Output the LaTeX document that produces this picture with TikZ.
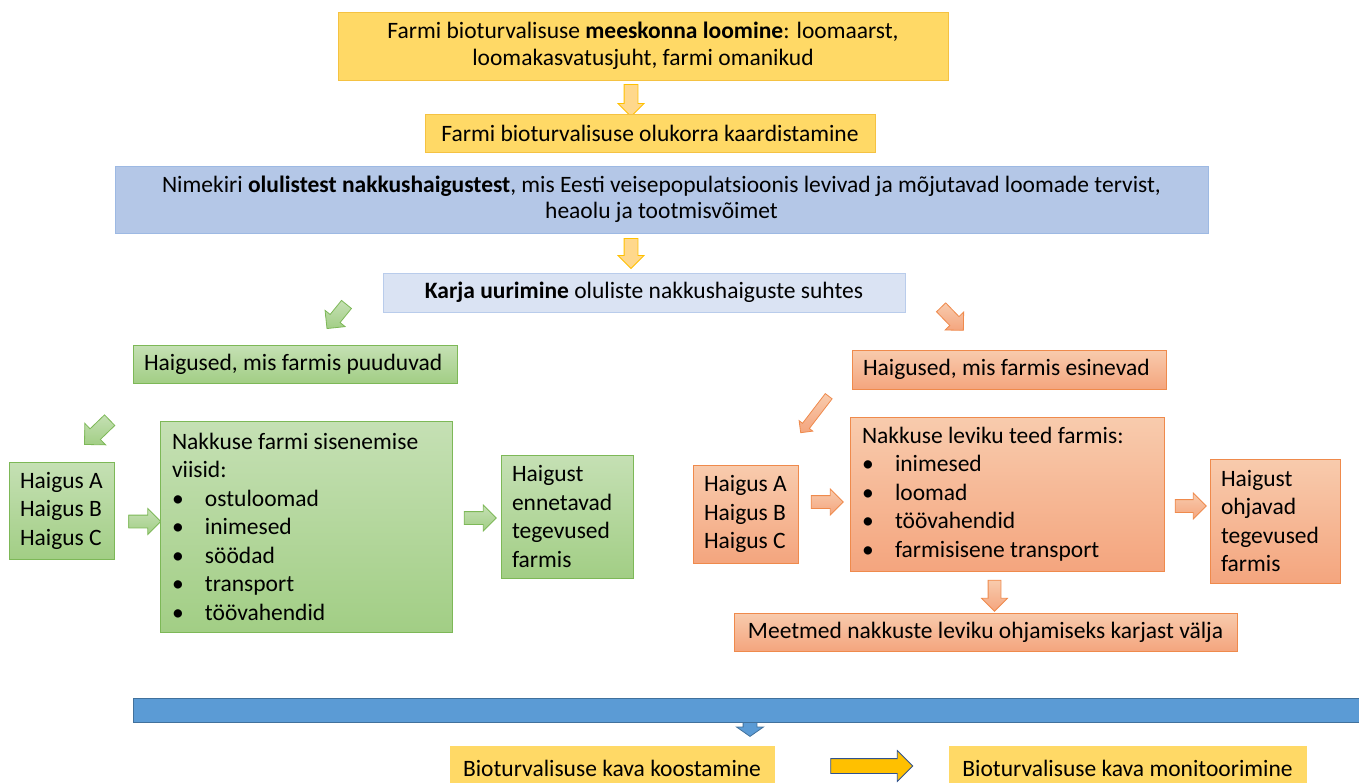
\documentclass[tikz,border=0pt]{standalone}
\usepackage{fontspec}
\setmainfont{Carlito}
\usetikzlibrary{shapes.arrows}
\definecolor{yfill}{HTML}{FFD966}
\definecolor{yline}{HTML}{F5C242}
\definecolor{yarr}{HTML}{FFD88C}
\definecolor{bfill}{HTML}{B4C7E7}
\definecolor{bline}{HTML}{9DB9E3}
\definecolor{lbfill}{HTML}{DAE3F3}
\definecolor{lbline}{HTML}{B9CCEB}
\definecolor{gtop}{HTML}{C5E0B4}
\definecolor{gbot}{HTML}{A2CE85}
\definecolor{gline}{HTML}{7DB857}
\definecolor{otop}{HTML}{F8CBAD}
\definecolor{obot}{HTML}{F4A57E}
\definecolor{oline}{HTML}{EF8A4C}
\definecolor{barfill}{HTML}{5B9BD5}
\definecolor{barline}{HTML}{41719C}
\definecolor{kfill}{HTML}{FFC000}
\definecolor{kline}{HTML}{2F528F}
\newcommand{\itm}{\makebox[33pt][l]{•}}
\tikzset{
  box/.style={draw, line width=1pt, inner xsep=11pt, inner ysep=0pt,
    font=\fontsize{23.5}{28.5}\selectfont},
  ybox/.style={box, fill=yfill, draw=yline, align=center},
  bbox/.style={box, fill=bfill, draw=bline, align=center},
  lbbox/.style={box, fill=lbfill, draw=lbline, align=center},
  gbox/.style={box, top color=gtop, bottom color=gbot, draw=gline, align=flush left},
  obox/.style={box, top color=otop, bottom color=obot, draw=oline, align=flush left},
  blk/.style={single arrow, line width=0.8pt, inner xsep=0pt},
  yarrow/.style={blk, fill=yarr, draw=kfill},
  garrow/.style={blk, top color=gtop, bottom color=gbot, draw=gline},
  oarrow/.style={blk, top color=otop, bottom color=obot, draw=oline}
}
\begin{document}
\begin{tikzpicture}[x=1pt,y=-1pt]
  \useasboundingbox (0,0) rectangle (1359,782);
  % planning steps
  \node [ybox, minimum width=610pt, minimum height=68pt, font=\fontsize{23.5}{27}\selectfont] (team) at (643,46)
    {Farmi bioturvalisuse \textbf{meeskonna loomine}: loomaarst,\\ loomakasvatusjuht, farmi omanikud};
  \node [yarrow, rotate=-90, minimum height=32pt, minimum width=25pt, inner ysep=6.5pt, single arrow head extend=6pt] (a1) at (631,97) {};
  \node [ybox, minimum width=450pt, minimum height=38pt] (map) at (650,133)
    {Farmi bioturvalisuse olukorra kaardistamine};
  \node [bbox, minimum width=1093pt, minimum height=67pt, font=\fontsize{23.5}{26}\selectfont] (list) at (661.5,199.5)
    {Nimekiri \textbf{olulistest nakkushaigustest}, mis Eesti veisepopulatsioonis levivad ja mõjutavad loomade tervist,\\ heaolu ja tootmisvõimet};
  \node [yarrow, rotate=-90, minimum height=30pt, minimum width=25pt, inner ysep=6.5pt, single arrow head extend=6pt] (a2) at (631,250) {};
  \node [lbbox, minimum width=522pt, minimum height=39pt] (herd) at (644,292.5)
    {\textbf{Karja uurimine} oluliste nakkushaiguste suhtes};
  \node [garrow, rotate=-129, minimum height=31pt, minimum width=25pt, inner ysep=6pt, single arrow head extend=6.5pt] (g1) at (338.75,314) {};
  \node [oarrow, rotate=-46, minimum height=32pt, minimum width=25pt, inner ysep=6pt, single arrow head extend=6.5pt] (o1) at (950,316.5) {};
  % absent diseases
  \node [gbox, minimum width=324pt, minimum height=38pt, text width=302pt] (absent) at (295,364)
    {Haigused, mis farmis puuduvad};
  \node [garrow, rotate=-136, minimum height=35pt, minimum width=29pt, inner ysep=7pt, single arrow head extend=7.5pt] (g2) at (99.75,429.75) {};
  \node [gbox, minimum width=105pt, minimum height=97pt, text width=83pt] (gabc) at (61.5,510.5)
    {Haigus A\\ Haigus B\\ Haigus C};
  \node [garrow, minimum height=32pt, minimum width=25pt, inner ysep=6pt, single arrow head extend=6.5pt] (g3) at (141.5,521.5) {};
  \node [gbox, minimum width=292pt, minimum height=211pt, text width=268pt, inner xsep=12pt] (entry) at (306,526.5)
    {Nakkuse farmi sisenemise\\ viisid:\\ \itm ostuloomad\\ \itm inimesed\\ \itm söödad\\ \itm transport\\ \itm töövahendid};
  \node [garrow, minimum height=32pt, minimum width=25pt, inner ysep=6pt, single arrow head extend=6.5pt] (g4) at (477,518) {};
  \node [gbox, minimum width=132pt, minimum height=123pt, text width=110pt] (prevent) at (567,516.5)
    {Haigust\\ ennetavad\\ tegevused\\ farmis};
  % present diseases
  \node [obox, minimum width=314pt, minimum height=39pt, text width=292pt] (present) at (1009,369.5)
    {Haigused, mis farmis esinevad};
  \node [oarrow, rotate=-127.5, minimum height=46pt, minimum width=16.5pt, inner ysep=3.9pt, single arrow head extend=4.3pt] (o2) at (816,412.75) {};
  \node [obox, minimum width=105pt, minimum height=98pt, text width=83pt] (oabc) at (745.5,514)
    {Haigus A\\ Haigus B\\ Haigus C};
  \node [oarrow, minimum height=32pt, minimum width=25pt, inner ysep=6pt, single arrow head extend=6.5pt] (o3) at (824,502) {};
  \node [obox, minimum width=314pt, minimum height=154pt, text width=290pt, inner xsep=12pt] (spread) at (1007,494)
    {Nakkuse leviku teed farmis:\\ \itm inimesed\\ \itm loomad\\ \itm töövahendid\\ \itm farmisisene transport};
  \node [oarrow, minimum height=31pt, minimum width=25pt, inner ysep=6pt, single arrow head extend=6.5pt] (o4) at (1187.5,506) {};
  \node [obox, minimum width=130pt, minimum height=124pt, text width=108pt] (control) at (1275,521)
    {Haigust\\ ohjavad\\ tegevused\\ farmis};
  \node [oarrow, rotate=-90, minimum height=31pt, minimum width=25pt, inner ysep=6pt, single arrow head extend=6.5pt] (o5) at (994.5,592.5) {};
  \node [obox, minimum width=503pt, minimum height=38pt, align=center] (out) at (985.5,632)
    {Meetmed nakkuste leviku ohjamiseks karjast välja};
  % plan
  \node [box, fill=barfill, draw=barline, minimum width=1229pt, minimum height=24pt] (bar) at (747.5,710) {};
  \node [blk, fill=barfill, draw=barline, rotate=-90, minimum height=14pt, minimum width=26pt, inner ysep=6.5pt,
    single arrow head extend=6.5pt, single arrow tip angle=110] (b1) at (750,727) {};
  \node [ybox, draw=yfill, minimum width=324pt, minimum height=44pt] (plan) at (612,768)
    {Bioturvalisuse kava koostamine};
  \node [blk, fill=kfill, draw=kline, minimum height=82pt, minimum width=30pt, inner ysep=7pt, single arrow head extend=8pt] (k1) at (868,766) {};
  \node [ybox, draw=yfill, minimum width=357pt, minimum height=44pt] (watch) at (1127.5,768)
    {Bioturvalisuse kava monitoorimine};
\end{tikzpicture}
\end{document}
